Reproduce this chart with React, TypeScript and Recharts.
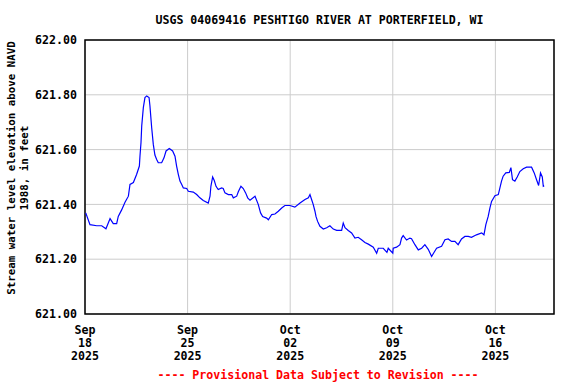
import React from "react";
import { LineChart, Line, XAxis, YAxis, CartesianGrid, ReferenceArea } from "recharts";

const title = "USGS 04069416 PESHTIGO RIVER AT PORTERFIELD, WI";
const yLabelLines = ["Stream water level elevation above NAVD", "1988, in feet"];
const footer = "---- Provisional Data Subject to Revision ----";

const xTicks = [0, 7, 14, 21, 28];
const xTickLabels = [
  ["Sep", "18", "2025"],
  ["Sep", "25", "2025"],
  ["Oct", "02", "2025"],
  ["Oct", "09", "2025"],
  ["Oct", "16", "2025"],
];
const yTicks = [621.0, 621.2, 621.4, 621.6, 621.8, 622.0];

// days since Sep 18 2025 00:00
const dayOffsets = [
  0.05, 0.34, 0.8, 1.14, 1.43, 1.71, 1.93, 2.16, 2.27, 2.5, 2.73, 2.96, 3.07, 3.3, 3.52, 3.71, 3.75, 3.82,
  3.87, 3.98, 4.09, 4.21, 4.37, 4.43, 4.55, 4.66, 4.77, 4.89, 5.0, 5.23, 5.39, 5.53, 5.75, 5.98, 6.14, 6.25,
  6.37, 6.48, 6.6, 6.71, 6.94, 7.05, 7.39, 7.62, 7.84, 8.07, 8.41, 8.53, 8.59, 8.71, 8.82, 8.94, 9.09, 9.32,
  9.43, 9.55, 9.78, 10.01, 10.12, 10.35, 10.46, 10.64, 10.8, 10.96, 11.1, 11.26, 11.6, 11.82, 11.98, 12.12,
  12.39, 12.51, 12.74, 12.96, 13.19, 13.42, 13.64, 13.98, 14.32, 14.67, 15.01, 15.24, 15.35, 15.46, 15.57,
  15.69, 15.76, 15.87, 16.03, 16.26, 16.49, 16.71, 16.94, 17.17, 17.51, 17.62, 17.74, 17.96, 18.19, 18.42,
  18.64, 18.87, 19.1, 19.33, 19.67, 19.9, 20.01, 20.35, 20.6, 20.69, 21.0, 21.03, 21.26, 21.49, 21.6, 21.71,
  21.94, 22.17, 22.28, 22.51, 22.74, 22.97, 23.19, 23.42, 23.65, 23.76, 23.99, 24.33, 24.56, 24.78, 25.01,
  25.24, 25.46, 25.69, 25.92, 26.15, 26.37, 26.71, 27.06, 27.22, 27.35, 27.51, 27.63, 27.74, 27.97, 28.2,
  28.31, 28.42, 28.53, 28.71, 28.95, 29.06, 29.17, 29.33, 29.49, 29.67, 29.9, 30.13, 30.47, 30.65, 30.81,
  30.95, 31.08, 31.2, 31.27, 31.33,
];
const elevations = [
  621.369, 621.326, 621.322, 621.322, 621.311, 621.348, 621.33, 621.33, 621.356, 621.38, 621.408, 621.43,
  621.473, 621.48, 621.509, 621.54, 621.576, 621.625, 621.686, 621.753, 621.79, 621.796, 621.79, 621.76,
  621.68, 621.619, 621.58, 621.564, 621.552, 621.552, 621.57, 621.595, 621.604, 621.595, 621.576, 621.54,
  621.509, 621.485, 621.473, 621.46, 621.458, 621.448, 621.445, 621.436, 621.424, 621.414, 621.405, 621.43,
  621.466, 621.5, 621.487, 621.466, 621.454, 621.46, 621.458, 621.442, 621.436, 621.436, 621.424, 621.43,
  621.446, 621.466, 621.458, 621.442, 621.424, 621.415, 621.43, 621.4, 621.369, 621.356, 621.35, 621.344,
  621.363, 621.365, 621.375, 621.387, 621.396, 621.396, 621.39, 621.405, 621.418, 621.424, 621.436, 621.418,
  621.4, 621.375, 621.356, 621.338, 621.32, 621.31, 621.315, 621.322, 621.31, 621.305, 621.305, 621.332,
  621.315, 621.305, 621.296, 621.277, 621.28, 621.271, 621.261, 621.255, 621.244, 621.222, 621.24, 621.24,
  621.225, 621.24, 621.222, 621.24, 621.244, 621.253, 621.277, 621.286, 621.27, 621.277, 621.275, 621.253,
  621.234, 621.24, 621.253, 621.236, 621.21, 621.22, 621.24, 621.247, 621.271, 621.274, 621.265, 621.265,
  621.253, 621.274, 621.283, 621.283, 621.28, 621.289, 621.296, 621.289, 621.326, 621.356, 621.387, 621.411,
  621.432, 621.436, 621.46, 621.485, 621.503, 621.515, 621.517, 621.534, 621.49, 621.485, 621.5, 621.52,
  621.53, 621.536, 621.536, 621.515, 621.49, 621.469, 621.515, 621.5, 621.466, 621.468,
];

const data = dayOffsets.map((t, i) => ({ t, v: elevations[i] }));

const FONT = "'DejaVu Sans Mono', 'Liberation Mono', monospace";

const XTick = (props: any) => {
  const { x, y, payload } = props;
  const idx = xTicks.indexOf(payload.value);
  const lines = idx >= 0 ? xTickLabels[idx] : [];
  return (
    <text x={x} y={y} textAnchor="middle" fontFamily={FONT} fontWeight="bold" fontSize={11.6} fill="#000">
      {lines.map((l, i) => (
        <tspan key={i} x={x} dy={i === 0 ? 20 : 13}>
          {l}
        </tspan>
      ))}
    </text>
  );
};

export default function App() {
  return (
    <div style={{ position: "absolute", left: 0, top: 0, width: 576, height: 384, background: "#fff" }}>
      <LineChart
        width={576}
        height={384}
        data={data}
        margin={{ top: 40, right: 22, bottom: 0, left: 0 }}
      >
        <CartesianGrid stroke="#cccccc" strokeWidth={1} />
        <XAxis
          dataKey="t"
          type="number"
          domain={[0, 32]}
          ticks={xTicks}
          tick={<XTick />}
          tickLine={false}
          axisLine={false}
          tickSize={0}
          tickMargin={0}
          height={70}
          allowDataOverflow
        />
        <YAxis
          type="number"
          domain={[621, 622]}
          ticks={yTicks}
          tickFormatter={(v: number) => v.toFixed(2)}
          tick={{ fontFamily: FONT, fontWeight: "bold", fontSize: 11.6, fill: "#000" }}
          tickLine={false}
          axisLine={false}
          tickSize={0}
          tickMargin={8}
          width={85}
          allowDataOverflow
        />
        <Line
          type="linear"
          dataKey="v"
          stroke="#0000ff"
          strokeWidth={1.2}
          dot={false}
          isAnimationActive={false}
        />
        <ReferenceArea
          x1={0}
          x2={32}
          y1={621}
          y2={622}
          fill="none"
          fillOpacity={0}
          stroke="#000"
          strokeWidth={1.5}
          ifOverflow="visible"
        />
      </LineChart>
      <svg
        width={576}
        height={384}
        style={{ position: "absolute", left: 0, top: 0, pointerEvents: "none" }}
      >
        <text x={319.5} y={24} textAnchor="middle" fontFamily={FONT} fontWeight="bold" fontSize={11.6} fill="#000">
          {title}
        </text>
        <text
          transform="translate(15,168) rotate(-90)"
          textAnchor="middle"
          fontFamily={FONT}
          fontWeight="bold"
          fontSize={10.8}
          fill="#000"
        >
          {yLabelLines[0]}
        </text>
        <text
          transform="translate(28,168) rotate(-90)"
          textAnchor="middle"
          fontFamily={FONT}
          fontWeight="bold"
          fontSize={10.8}
          fill="#000"
        >
          {yLabelLines[1]}
        </text>
        <text x={318} y={379} textAnchor="middle" fontFamily={FONT} fontWeight="bold" fontSize={11.6} fill="#ff0000">
          {footer}
        </text>
      </svg>
    </div>
  );
}
